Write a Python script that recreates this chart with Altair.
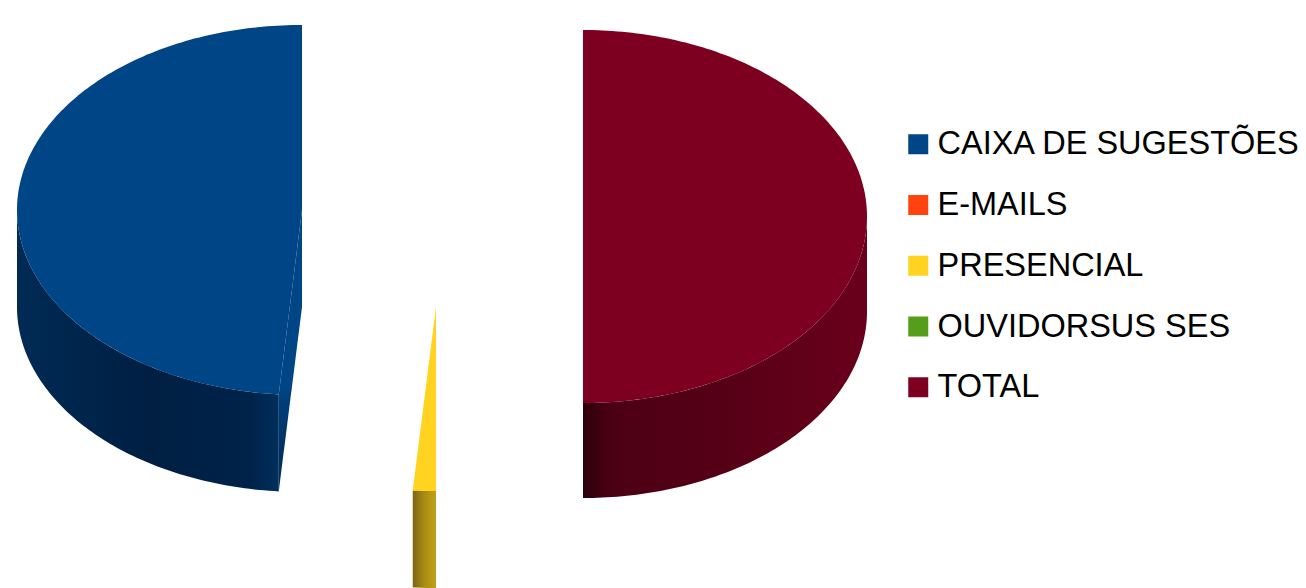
import math
import altair as alt

# Chart values (share of the pie, percent)
categories = ["CAIXA DE SUGESTÕES", "E-MAILS", "PRESENCIAL", "OUVIDORSUS SES", "TOTAL"]
shares = [48.7, 0.0, 1.3, 0.0, 50.0]
colors = ["#004586", "#ff420e", "#ffd320", "#579d1c", "#7e0021"]

FRAME_W, FRAME_H = 1290, 580
PAGE_MARGIN = 8

# Layout of each exploded slice in page pixels: ellipse centre, radii
layout = {
    "CAIXA DE SUGESTÕES": dict(cx=302, cy=210, rx=285, ry=185, depth=97),
    "PRESENCIAL": dict(cx=436, cy=307, rx=285, ry=184, depth=97),
    "TOTAL": dict(cx=583, cy=216.5, rx=284, ry=186.5, depth=95),
}
side_stops = {
    "CAIXA DE SUGESTÕES": [(0, "#002a55"), (0.5, "#001f42"), (0.9, "#00234a"), (1, "#002f5c")],
    "PRESENCIAL": [(0, "#7d6510"), (0.5, "#a88c14"), (1, "#c0a318")],
    "TOTAL": [(0, "#2c000b"), (0.1, "#4c0013"), (0.5, "#560016"), (1, "#6a001b")],
}


def to_geo(pts):
    return [[x - PAGE_MARGIN, y - PAGE_MARGIN] for x, y in pts]


def rim(p, a, b, dy=0.0):
    n = max(2, int(abs(b - a)) + 1)
    pts = []
    for i in range(n + 1):
        t = math.radians(a + (b - a) * i / n)
        pts.append([p["cx"] - p["rx"] * math.sin(t), p["cy"] - p["ry"] * math.cos(t) + dy])
    return pts


def feature(name, ring):
    ring = ring + [ring[0]]
    return {"type": "Feature", "properties": {"name": name},
            "geometry": {"type": "Polygon", "coordinates": [ring]}}


faces, sides, walls = [], {}, {}
cum = 0.0
for name, share in zip(categories, shares):
    start, end = cum * 3.6, (cum + share) * 3.6
    cum += share
    if share <= 0:
        continue
    p = layout[name]
    faces.append(feature(name, to_geo([[p["cx"], p["cy"]]] + rim(p, start, end))))
    a, b = max(start, 90.0), min(end, 270.0)
    sides[name] = feature(name, to_geo(rim(p, a, b) + rim(p, a, b, p["depth"])[::-1]))
    if name == "CAIXA DE SUGESTÕES":
        e = rim(p, end, end)[0]
        walls[name] = feature(name, to_geo([[p["cx"], p["cy"]], e, [e[0], e[1] + p["depth"]],
                                            [p["cx"], p["cy"] + p["depth"]]]))


def geo(feats):
    return alt.Data(values={"type": "FeatureCollection", "features": feats},
                    format=alt.DataFormat(property="features", type="json"))


proj = dict(type="identity")


def grad(stops, vertical=False):
    return alt.Gradient(gradient="linear", x1=0, y1=0, x2=0 if vertical else 1, y2=1 if vertical else 0,
                        stops=[alt.GradientStop(color=c, offset=o) for o, c in stops])


# An invisible frame pins the projection's fit to the whole drawing area
frame = feature("frame", [[0, 0], [FRAME_W, 0], [FRAME_W, FRAME_H], [0, FRAME_H]])
layers = [alt.Chart(geo([frame])).mark_geoshape(fillOpacity=0, strokeOpacity=0).project(**proj)]

for name, w in walls.items():
    layers.append(alt.Chart(geo([w])).mark_geoshape(
        clip=True, fill=grad([(0, "#004586"), (0.62, "#004586"), (0.72, "#003a72"), (1, "#002a55")], True)
    ).project(**proj))
for name, s in sides.items():
    layers.append(alt.Chart(geo([s])).mark_geoshape(
        clip=True, fill=grad(side_stops[name])).project(**proj))

layers.append(alt.Chart(geo(faces)).mark_geoshape(clip=True).encode(
    color=alt.Color("properties.name:N",
                    scale=alt.Scale(domain=categories, range=colors),
                    legend=alt.Legend(
                        title=None, orient="none", legendX=894, legendY=120,
                        symbolType="square", symbolSize=400, symbolStrokeWidth=0,
                        labelFont="Liberation Sans", labelFontSize=32.5,
                        labelColor="#000000", labelOffset=3, rowPadding=27.75,
                        labelLimit=500))
).project(**proj))

chart = alt.layer(*layers).properties(
    width=FRAME_W, height=FRAME_H, padding=0,
    autosize=alt.AutoSizeParams(type="none"),
).configure_view(stroke=None)

chart.save("out.html", embed_options={"renderer": "svg", "actions": False})
